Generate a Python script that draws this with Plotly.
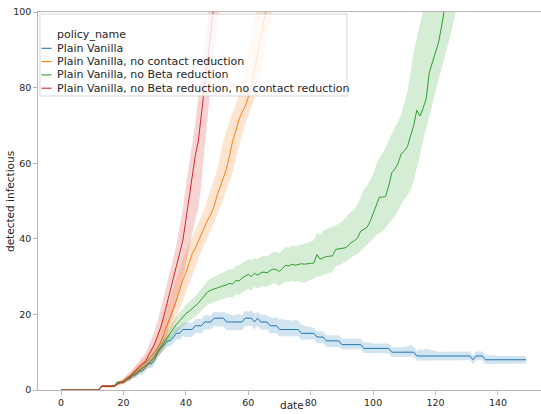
import plotly.graph_objects as go

# ---------------- data ----------------
policy_names = [
    "Plain Vanilla",
    "Plain Vanilla, no contact reduction",
    "Plain Vanilla, no Beta reduction",
    "Plain Vanilla, no Beta reduction, no contact reduction",
]
colors = ["#1f77b4", "#ff7f0e", "#2ca02c", "#d62728"]
band_colors = ["rgba(31,119,180,0.2)", "rgba(255,127,14,0.2)",
               "rgba(44,160,44,0.2)", "rgba(214,39,40,0.2)"]

x_ticks = [0, 20, 40, 60, 80, 100, 120, 140]
y_ticks = [0, 20, 40, 60, 80, 100]
x_label = "date"
y_label = "detected infectious"
legend_title = "policy_name"

# Plain Vanilla (days 0..149)
pv_mean = ([0] * 13 + [1] * 5 + [2] * 3 +
           [3, 3, 4, 4, 5, 5, 6, 7, 7, 8, 10, 11, 12, 13, 13, 14, 15, 15, 16] +
           [16] * 3 + [17] * 3 + [18] * 3 + [19] * 4 + [18] * 6 + [19] * 3 +
           [18, 19] + [18] * 3 + [17] * 3 + [16] * 7 + [15] * 5 + [14] * 3 +
           [13] * 5 + [12] * 7 + [11] * 9 + [10] * 8 + [9] * 18 + [8] +
           [9] * 3 + [8] * 14)
pv_hi = ([0] * 13 + [1.3] * 5 + [2.4] * 3 +
         [3.6, 3.7, 4.8, 4.8, 5.9, 6.0, 7.0, 8.1, 8.2, 9.2, 11.3, 12.4, 13.4, 14.5, 14.5,
          15.6, 16.6, 16.7, 17.7] +
         [17.8, 17.8, 17.8, 18.8, 18.8, 18.8, 19.8, 19.8, 19.8, 20.8] +
         [20.6, 20.5, 20.7, 20.3, 20.0, 19.8, 19.9, 20.2, 19.8, 21.0] +
         [20.7, 21.0, 20.2, 20.6, 19.9, 20.0, 19.8, 19.2, 19.1, 19.4] +
         [18.6, 18.8, 18.5, 18.6, 18.3, 18.5, 18.4, 17.2, 17.0, 16.8] +
         [16.5, 16.5, 15.5, 15.5, 15.5, 14.5, 14.5, 14.5, 14.5, 14.5] +
         [13.6] * 7 + [12.6] * 3 + [12.3] * 6 + [11.3] * 4 +
         [11.4, 11.6, 12.0, 11.5, 10.2, 10.8, 10.6, 10.9, 10.7, 10.3] +
         [10.1] * 10 +
         [10.2, 10.2, 9.2, 10.2, 10.2, 10.2, 9.2, 9.2, 9.2, 9.2] +
         [9.0] * 10)
pv_lo = ([0] * 13 + [0.7] * 5 + [1.6] * 3 +
         [2.4, 2.3, 3.2, 3.2, 4.1, 4.0, 5.0, 5.9, 5.8, 6.8, 8.7, 9.6, 10.6, 11.5, 11.5,
          12.4, 13.4, 13.3, 14.3] +
         [14, 14, 14, 15, 15, 15, 16, 16, 16, 17] +
         [16.8, 16.8, 16.8, 15.8, 15.8, 15.8, 15.8, 15.8, 15.8, 16.8] +
         [17, 17, 16, 17, 16, 16, 16, 15, 15, 15] +
         [14.2] * 7 + [13.2] * 3 +
         [13.4, 13.4, 12.4, 12.4, 12.4] + [11.4] * 5 +
         [10.8] * 7 + [9.8] * 3 + [9.7] * 6 + [8.7] * 4 +
         [8.8] * 4 + [7.8] * 6 + [7.9] * 10 +
         [7.9, 7.9, 6.9, 7.9, 7.9, 7.9, 6.9, 6.9, 6.9, 6.9] +
         [7.0] * 10)

# Plain Vanilla, no contact reduction
nc_mean = ([0] * 13 + [1] * 5 +
           [1.5, 2.0, 2.3, 3.0, 3.6, 4.3, 5.0, 5.8, 6.5, 7.2, 8.2, 9.0, 10.0, 11.3, 12.8,
            15.0, 17.0, 19.5, 21.5, 23.8, 26.5, 29.0, 31.0, 33.5, 36.0, 37.5, 39.5, 41.0,
            43.0, 45.0, 46.5, 48.5, 51.5, 54.0, 56.0, 58.5, 62.0, 66.0, 68.5, 71.5, 73.5,
            75.0, 77.5, 81.0, 85.0, 89.0, 93.0, 97.5, 102.0])
nc_hi = ([0] * 13 + [1.3] * 5 +
         [2.2, 2.7, 3.3, 4.0, 4.7, 5.5, 6.2, 7.0, 7.9, 8.8, 10.0, 11.3, 13.0, 15.2, 17.3,
          19.8, 22.0, 24.5, 27.3, 29.8, 32.0, 34.5, 37.0, 38.6, 40.5, 42.2, 44.2, 46.0,
          48.0, 50.8, 53.5, 55.7, 58.2, 62.0, 66.0, 68.6, 71.4, 73.6, 75.5, 78.0, 81.5,
          85.5, 89.5, 93.5, 98.0, 102.5])
nc_lo = ([0] * 13 + [0.7] * 5 +
         [0.9, 1.3, 1.6, 2.1, 2.6, 3.1, 3.7, 4.4, 5.1, 5.7, 6.4, 7.2, 8.0, 8.8, 9.7,
          11.0, 12.5, 14.6, 16.5, 18.8, 20.8, 23.0, 25.5, 27.8, 30.0, 32.5, 34.8, 36.8,
          38.7, 40.5, 42.2, 44.2, 46.0, 48.0, 50.5, 53.0, 55.5, 57.5, 61.0, 64.5, 67.5,
          70.5, 73.0, 74.8, 77.0, 80.0, 84.0, 88.0, 92.0, 97.0, 102.0])

# Plain Vanilla, no Beta reduction
nb_mean = ([0] * 13 + [1] * 5 + [2] * 3 +
           [2.7, 3.3, 4.0, 4.6, 5.2, 5.8, 6.3, 7.0, 7.8, 9.0,
            10.3, 11.5, 12.8, 14.0, 15.2, 16.3, 17.4, 18.3, 19.3, 20.2,
            20.8, 21.5, 22.2, 23.0, 24.0, 25.0, 26.0, 26.4, 26.6, 27.0,
            27.3, 27.5, 27.8, 28.2, 28.0, 29.0, 28.8, 29.6, 30.2, 30.6,
            30.0, 30.9, 30.4, 31.0, 31.2, 31.0, 31.6, 32.0, 31.8, 31.4,
            32.2, 33.0, 32.8, 33.3, 33.0, 33.2, 33.4, 33.3, 33.5, 33.5,
            33.6, 35.8, 34.6, 35.0, 35.3, 35.4, 35.5, 37.2, 37.3, 37.4,
            37.6, 38.2, 39.0, 39.5, 40.2, 42.0, 42.4, 43.0, 44.5, 46.5,
            48.8, 51.0, 51.0, 51.2, 54.0, 57.5, 58.5, 60.0, 62.5, 63.2,
            64.4, 67.0, 70.0, 74.0, 72.5, 74.5, 77.0, 84.0, 86.5, 89.5,
            92.0, 96.5, 101.0, 106.0])
nb_hi = ([0] * 13 + [1.3] * 5 + [2.4] * 3 +
         [3.3, 4.0, 4.8, 5.4, 6.1, 6.8, 7.4, 8.2, 9.1, 10.3,
          11.7, 13.0, 14.4, 15.7, 17.0, 18.2, 19.4, 20.4, 21.5, 22.5,
          23.3, 24.0, 24.8, 25.7, 26.8, 27.9, 29.0, 29.5, 29.8, 30.3,
          30.8, 31.1, 31.5, 32.0, 31.9, 32.8, 33.0, 33.6, 34.2, 34.6,
          34.3, 34.9, 34.6, 35.2, 35.5, 35.3, 36.0, 36.6, 36.5, 36.2,
          37.0, 37.8, 37.6, 38.2, 38.0, 38.2, 38.5, 38.7, 39.0, 39.2,
          39.6, 41.5, 41.0, 42.0, 42.6, 43.0, 43.2, 43.5, 44.0, 44.5,
          45.5, 46.5, 47.2, 47.8, 49.0, 51.0, 53.0, 54.0, 55.5, 57.0,
          59.5, 61.5, 62.5, 64.0, 66.0, 68.0, 69.5, 71.0, 73.0, 76.0,
          79.0, 84.0, 89.5, 93.0, 96.5, 100.0, 104.0])
nb_lo = ([0] * 13 + [0.7] * 5 + [1.6] * 3 +
         [2.1, 2.6, 3.2, 3.8, 4.3, 4.8, 5.2, 5.8, 6.5, 7.6,
          8.8, 9.8, 11.0, 12.1, 13.2, 14.2, 15.2, 16.0, 16.9, 17.7,
          18.2, 18.8, 19.4, 20.1, 20.9, 21.8, 22.6, 23.0, 23.2, 23.5,
          23.8, 24.0, 24.3, 24.7, 24.5, 25.3, 25.2, 25.9, 26.4, 26.8,
          26.3, 27.3, 26.8, 27.3, 27.5, 27.3, 27.8, 28.2, 28.0, 27.6,
          28.2, 28.8, 28.5, 28.9, 28.6, 28.8, 28.6, 28.3, 28.8, 29.2,
          29.5, 30.0, 30.0, 30.5, 30.9, 31.0, 31.3, 32.6, 33.0, 33.4,
          33.8, 34.3, 35.0, 35.6, 36.0, 36.8, 37.5, 38.2, 39.2, 40.0,
          41.0, 41.5, 42.0, 43.0, 44.0, 45.0, 46.0, 47.5, 49.0, 50.5,
          51.5, 53.0, 55.5, 58.5, 62.0, 66.0, 69.0, 72.5, 75.5, 79.0,
          82.5, 85.5, 88.5, 91.5, 94.5, 98.0, 102.0])

# Plain Vanilla, no Beta reduction, no contact reduction
nbc_mean = ([0] * 13 + [1] * 5 +
            [1.5, 2.0, 2.2, 3.0, 3.5, 4.3, 5.3, 6.2, 7.0, 7.5, 9.0, 10.5, 12.2, 14.5,
             16.7, 19.8, 23.0, 26.5, 29.5, 32.6, 36.0, 39.5, 45.0, 50.5, 57.0, 62.0,
             66.0, 73.0, 81.0, 88.0, 95.0, 102.0])
nbc_hi = ([0] * 13 + [1.3] * 5 +
          [1.9, 2.4, 3.0, 3.8, 4.5, 5.5, 6.6, 7.4, 8.5, 9.8, 11.4, 13.4, 15.8, 18.4,
           21.4, 25.0, 28.4, 31.5, 35.0, 38.5, 43.0, 48.0, 54.0, 60.0, 65.0, 70.5,
           77.5, 85.0, 92.0, 99.0, 106.0])
nbc_lo = ([0] * 13 + [0.7] * 5 +
          [1.1, 1.5, 1.7, 2.2, 2.6, 3.1, 3.8, 4.4, 5.0, 5.6, 6.5, 7.3, 8.3, 9.5,
           11.0, 12.8, 15.0, 17.5, 20.5, 23.5, 26.5, 29.5, 33.5, 37.0, 41.0, 45.0,
           48.0, 55.0, 64.0, 73.0, 81.0, 89.0, 96.0, 101.5])

series = [
    (pv_mean, pv_lo, pv_hi),
    (nc_mean, nc_lo, nc_hi),
    (nb_mean, nb_lo, nb_hi),
    (nbc_mean, nbc_lo, nbc_hi),
]

# ---------------- figure ----------------
W, H = 541, 414
ML, MR, MT, MB = 38, 0, 12, 24
PW, PH = W - ML - MR, H - MT - MB


def px(xp):  # window pixel -> paper
    return (xp - ML) / PW


def py(yp):
    return (H - MB - yp) / PH


fig = go.Figure()
for i, (mean, lo, hi) in enumerate(series):
    d_hi = list(range(len(hi)))
    d_lo = list(range(len(lo)))
    fig.add_trace(go.Scatter(
        x=d_hi + d_lo[::-1], y=hi + lo[::-1], fill="toself", mode="lines",
        line=dict(width=0, color=band_colors[i]), fillcolor=band_colors[i],
        hoverinfo="skip", showlegend=False))
    fig.add_trace(go.Scatter(
        x=list(range(len(mean))), y=mean, mode="lines", name=policy_names[i],
        line=dict(color=colors[i], width=1.0), showlegend=False))

spine = "#b8b8b8"
text_col = "#262626"
font = "DejaVu Sans"

fig.update_layout(
    width=W, height=H, margin=dict(l=ML, r=MR, t=MT, b=MB, pad=0),
    paper_bgcolor="white", plot_bgcolor="white", showlegend=False,
    font=dict(family=font, color=text_col, size=9),
    xaxis=dict(range=[-7.4, 153.8], tickvals=x_ticks, showgrid=False, zeroline=False,
               showline=True, linecolor=spine, linewidth=1.2, mirror=True,
               ticks="outside", ticklen=3.5, tickcolor=spine, tickwidth=1,
               tickfont=dict(size=9.5, color=text_col), ticklabeloverflow="allow",
               automargin=False),
    yaxis=dict(range=[0, 100], tickvals=y_ticks, showgrid=False, zeroline=False,
               showline=True, linecolor=spine, linewidth=1.2,
               ticks="outside", ticklen=3.5, tickcolor=spine, tickwidth=1,
               tickfont=dict(size=9.5, color=text_col), ticklabeloverflow="allow",
               automargin=False),
)

# axis titles
fig.add_annotation(xref="paper", yref="paper", x=px(291.5), y=py(405),
                   xanchor="center", yanchor="middle", showarrow=False,
                   text=x_label, font=dict(size=10.5, color=text_col, family=font))
fig.add_annotation(xref="paper", yref="paper", x=px(10), y=py(202),
                   xanchor="center", yanchor="middle", showarrow=False, textangle=-90,
                   text=y_label, font=dict(size=10.5, color=text_col, family=font))

# ---------------- legend (drawn as box, handles and labels) ----------------
fig.add_shape(type="rect", xref="paper", yref="paper",
              x0=px(40), x1=px(347), y0=py(14), y1=py(96),
              fillcolor="rgba(255,255,255,0.8)",
              line=dict(color="rgba(204,204,204,0.8)", width=1), layer="above")
fig.add_annotation(xref="paper", yref="paper", x=px(54.5), y=py(34.5),
                   xanchor="left", yanchor="middle", showarrow=False,
                   text=legend_title, font=dict(size=11, color=text_col, family=font))
row_y = [48.3, 61.6, 74.9, 88.2]
for i, name in enumerate(policy_names):
    fig.add_shape(type="line", xref="paper", yref="paper",
                  x0=px(41.5), x1=px(51.5), y0=py(row_y[i]), y1=py(row_y[i]),
                  line=dict(color=colors[i], width=1.1), layer="above")
    fig.add_annotation(xref="paper", yref="paper", x=px(54.5), y=py(row_y[i]),
                       xanchor="left", yanchor="middle", showarrow=False,
                       text=name, font=dict(size=11, color=text_col, family=font))

# remove the browser's default 8px body margin so the figure sits at (0, 0)
fig.write_html("out.html",
               config={"displayModeBar": False, "staticPlot": True},
               post_script="document.body.style.margin='0';"
                           "document.body.style.overflow='hidden';")
